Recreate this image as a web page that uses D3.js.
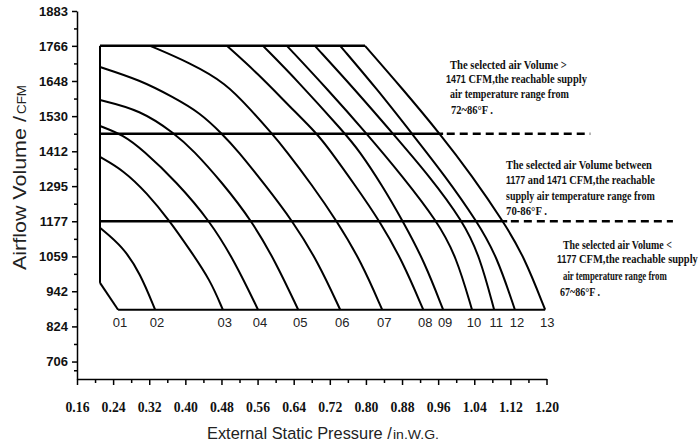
<!DOCTYPE html>
<html><head><meta charset="utf-8">
<script src="https://cdn.jsdelivr.net/npm/d3@7"></script>
<style>html,body{margin:0;padding:0;background:#fff}</style>
</head><body><svg id="c" width="699" height="447"></svg>
<script>
// ---------------- data ----------------
const yTickValues = [1883,1766,1648,1530,1412,1295,1177,1059,942,824,706];
const xTickValues = [0.16,0.24,0.32,0.40,0.48,0.56,0.64,0.72,0.80,0.88,0.96,1.04,1.12,1.20];
const curveLabels = ["01","02","03","04","05","06","07","08","09","10","11","12","13"];
// each curve: [pressure (in.W.G.), airflow (CFM)]
const curve01 = [[0.211,970],[0.251,880]];
const curve02 = [[0.211,1155],[0.262,1091],[0.300,1002],[0.333,880]];
const curve03 = [[0.211,1393],[0.262,1349],[0.315,1272],[0.366,1177],[0.410,1081],[0.455,980],[0.483,880]];
const curve04 = [[0.211,1497],[0.262,1467],[0.306,1416],[0.380,1310],[0.455,1177],[0.510,1040],[0.561,880]];
const curve05 = [[0.211,1584],[0.300,1551],[0.377,1471],[0.417,1416],[0.480,1310],[0.548,1177],[0.600,1040],[0.650,880]];
const curve06 = [[0.211,1695],[0.300,1651],[0.373,1594],[0.433,1541],[0.481,1471],[0.515,1416],[0.576,1300],[0.638,1177],[0.694,1040],[0.743,880]];
const curve07 = [[0.322,1766],[0.410,1709],[0.490,1641],[0.545,1551],[0.592,1471],[0.622,1416],[0.680,1300],[0.736,1177],[0.790,1040],[0.836,880]];
const curve08 = [[0.492,1766],[0.559,1675],[0.632,1561],[0.692,1471],[0.720,1416],[0.775,1300],[0.831,1177],[0.882,1040],[0.927,880]];
const curve09 = [[0.572,1766],[0.647,1651],[0.754,1471],[0.784,1416],[0.835,1300],[0.882,1177],[0.930,1040],[0.971,880]];
const curve10 = [[0.625,1766],[0.715,1620],[0.802,1471],[0.880,1330],[0.958,1177],[1.000,1060],[1.035,880]];
const curve11 = [[0.687,1766],[0.775,1620],[0.860,1471],[0.940,1330],[1.015,1177],[1.052,1060],[1.084,880]];
const curve12 = [[0.743,1766],[0.825,1620],[0.902,1471],[0.975,1330],[1.046,1177],[1.090,1060],[1.130,880]];
const curve13 = [[0.798,1766],[0.882,1620],[0.964,1471],[1.035,1330],[1.104,1177],[1.150,1060],[1.197,880]];
const curves = [curve01,curve02,curve03,curve04,curve05,curve06,curve07,curve08,curve09,curve10,curve11,curve12,curve13];
const topAirflow = 1766, baseAirflow = 880, leftPressure = 0.211, leftBottomAirflow = 970;
const topRightPressure = 0.798, baseRightPressure = 1.197, baseLeftPressure = 0.251;
const limitAirflow = [1471, 1177];
const limitSolidEnd = [0.971, 1.113];
const limitDashEnd = [1.297, 1.480];
const noteHigh = ["The selected air Volume >","1471 CFM,the reachable supply","air temperature range from","72~86°F ."];
const noteMid  = ["The selected air Volume between","1177 and 1471 CFM,the reachable","supply air temperature range from","70-86°F ."];
const noteLow  = ["The selected air Volume <","1177 CFM,the reachable supply","air temperature range from","67~86°F ."];

// ---------------- chart ----------------
const svg = d3.select("#c");
const x = d3.scaleLinear().domain([0.16,1.20]).range([77,546.5]);
const y = d3.scaleLinear().domain([647.4,1883]).range([379,11]);

function styleAxis(g){
  g.selectAll("path,line").attr("stroke","#000").attr("stroke-width",1.5);
}
// y axis
const gy = svg.append("g").attr("transform","translate(77,0)")
  .call(d3.axisLeft(y).tickValues(yTickValues).tickSize(5).tickSizeOuter(0).tickPadding(4).tickFormat(d=>d));
styleAxis(gy);
gy.selectAll("text").attr("font-family","'Liberation Sans',Arial,sans-serif").attr("font-weight","bold")
  .attr("font-size",13).attr("fill","#111");
const yMinor = yTickValues.slice(0,-1).map((v,i)=>(v+yTickValues[i+1])/2).concat([(706+647.4)/2]);
const gym = svg.append("g").attr("transform","translate(77,0)")
  .call(d3.axisLeft(y).tickValues(yMinor).tickSize(3).tickFormat(""));
gym.select(".domain").remove(); styleAxis(gym);

// x axis
const gx = svg.append("g").attr("transform","translate(0,379)")
  .call(d3.axisBottom(x).tickValues(xTickValues).tickSize(6).tickSizeOuter(0).tickFormat(d3.format(".2f")));
styleAxis(gx);
gx.selectAll("text").attr("font-family","'Liberation Serif','Times New Roman',serif").attr("font-weight","bold")
  .attr("font-size",15.5).attr("fill","#111").attr("y",33).attr("dy",0)
  .attr("textLength",24).attr("lengthAdjust","spacingAndGlyphs");
const xMinor = xTickValues.slice(0,-1).map((v,i)=>(v+xTickValues[i+1])/2);
const gxm = svg.append("g").attr("transform","translate(0,379)")
  .call(d3.axisBottom(x).tickValues(xMinor).tickSize(4).tickFormat(""));
gxm.select(".domain").remove(); styleAxis(gxm);

// helper: text squeezed to a target width by a horizontal scale
function fitText(sel, tx, ty, target, rot){
  const w = sel.node().getComputedTextLength();
  const s = w > 0 ? target / w : 1;
  sel.attr("transform", `translate(${tx},${ty})` + (rot ? ` rotate(${rot})` : "") + ` scale(${s},1)`);
  return sel;
}
const sans = "'Liberation Sans',Arial,sans-serif";
// axis titles
fitText(svg.append("text").attr("font-family",sans).attr("font-size",17).attr("fill","#222")
  .text("External Static Pressure /"), 207, 439, 185);
fitText(svg.append("text").attr("font-family",sans).attr("font-size",13).attr("fill","#222")
  .text("in.W.G."), 393, 439, 46);
fitText(svg.append("text").attr("font-family",sans).attr("font-size",18).attr("fill","#222")
  .text("Airflow Volume /"), 26, 270, 154, -90);
fitText(svg.append("text").attr("font-family",sans).attr("font-size",13).attr("fill","#222")
  .text("CFM"), 26, 114, 29, -90);

// chart body
const straight = d3.line().x(d=>x(d[0])).y(d=>y(d[1]));
const smooth = d3.line().x(d=>x(d[0])).y(d=>y(d[1])).curve(d3.curveBasis);
const plot = svg.append("g").attr("fill","none").attr("stroke","#000");
plot.append("path").attr("stroke-width",2.5).attr("d",straight([[leftPressure,topAirflow],[topRightPressure,topAirflow]]));
plot.append("path").attr("stroke-width",2).attr("d",straight([[leftPressure,topAirflow],[leftPressure,leftBottomAirflow]]));
plot.append("path").attr("stroke-width",2).attr("d",straight([[baseLeftPressure,baseAirflow],[baseRightPressure,baseAirflow]]));
curves.forEach(c=>{
  plot.append("path").attr("stroke-width",2).attr("stroke-linejoin","round").attr("d",smooth(c));
});
limitAirflow.forEach((a,i)=>{
  plot.append("path").attr("stroke-width",2.5).attr("d",straight([[leftPressure,a],[limitSolidEnd[i],a]]));
  plot.append("path").attr("stroke-width",2.5).attr("stroke-dasharray","8,5")
    .attr("d",straight([[limitSolidEnd[i]+0.008,a],[limitDashEnd[i],a]]));
});
// curve labels
svg.append("g").selectAll("text").data(curves).join("text")
  .attr("x",(c,i)=>x(c[c.length-1][0])+2).attr("y",y(baseAirflow)+17)
  .attr("text-anchor","middle").attr("font-family",sans)
  .attr("font-size",13).attr("fill","#222").text((c,i)=>curveLabels[i]);

// notes
function note(lines, x0, baselines, widths){
  lines.forEach((t,i)=>{
    const tx = svg.append("text")
      .attr("font-family","'Liberation Serif','Times New Roman',serif").attr("font-weight","bold")
      .attr("font-size",13.5).attr("fill","#111");
    t.split(/(\d{4})/).forEach(part=>{
      if(!part) return;
      const ts = tx.append("tspan").text(part);
      if(/^\d{4}$/.test(part)) ts.attr("font-family",sans).attr("font-size",11.5);
    });
    fitText(tx, x0[i], baselines[i], widths[i]);
  });
}
note(noteHigh,[450,446,450,451],[69,83,98,114],[117,141,119,42]);
note(noteMid,[506,506,506,506],[169,184,200,215],[146,149,149,41]);
note(noteLow,[563,557,563,560],[249,263,280,296],[109,141,104,40]);
</script></body></html>
